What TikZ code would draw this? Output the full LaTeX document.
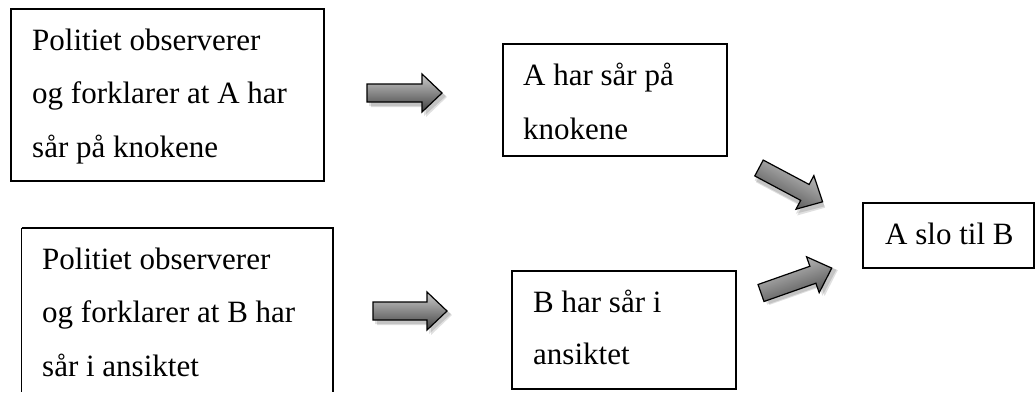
\documentclass[tikz,border=0pt]{standalone}
\usepackage{fontspec}
\setmainfont{Liberation Serif}
\tikzset{
  boxframe/.style={draw=black, line width=1.3pt},
  linetext/.style={anchor=base west, inner sep=0pt, font=\fontsize{31}{53}\selectfont},
  arrowbody/.style={draw=black, line width=1.2pt, line join=miter, top color=black!20},
  arrowshadow/.style={fill=black, opacity=0.12},
}
% #1 name, #2 tail centre, #3 angle, #4 length, #5 dark shade percentage (kept distinct)
\newcommand\blockarrow[5]{%
  \begin{scope}[shift={#2}, rotate=#3]
    \coordinate (#1) at (0,0);
    \fill[arrowshadow] (2,-6) -- (#4-18,-6) -- (#4-18,-16) -- (#4+4,3) -- (#4-18,23) -- (#4-18,13) -- (2,13) -- cycle;
    \fill[arrowshadow] (4,-4) -- (#4-16,-4) -- (#4-16,-14) -- (#4+5,4) -- (#4-16,24) -- (#4-16,14) -- (4,14) -- cycle;
    \shade[arrowbody, bottom color=black!#5, shading angle=#3] (0,-9) -- (#4-20,-9) -- (#4-20,-19) -- (#4,0) -- (#4-20,19) -- (#4-20,9) -- (0,9) -- cycle;
    \coordinate (#1tip) at (#4,0);
  \end{scope}}
\begin{document}
\begin{tikzpicture}[x=1pt, y=-1pt]
\useasboundingbox (0,0) rectangle (1036,392);
\fill[white] (0,0) rectangle (1036,392);

% boxes
\draw[boxframe] (11,9) rectangle (324,181);
\node[linetext] (l11) at (32,50) {Politiet observerer};
\node[linetext] (l12) at (32,103) {og forklarer at A har};
\node[linetext] (l13) at (32,157) {sår på knokene};

\draw[boxframe] (503,44) rectangle (727,156);
\node[linetext] (l21) at (523,85) {A har sår på};
\node[linetext] (l22) at (523,139) {knokene};

\draw[boxframe] (863,203) rectangle (1034,268);
\node[linetext] (l31) at (885,244) {A slo til B};

\draw[boxframe] (21.5,228) -- (21.5,392) (21.5,228) -- (333,228) -- (333,392);
\node[linetext] (l41) at (42,269) {Politiet observerer};
\node[linetext] (l42) at (42,322) {og forklarer at B har};
\node[linetext] (l43) at (42,376) {sår i ansiktet};

\draw[boxframe] (512,271) rectangle (736,389);
\node[linetext] (l51) at (533,312) {B har sår i};
\node[linetext] (l52) at (533,364) {ansiktet};

% block arrows
\blockarrow{a1}{(367,93)}{0}{75}{75}
\blockarrow{a2}{(373,311)}{0}{74}{74}
\blockarrow{a3}{(759,168)}{-28}{72}{73}
\blockarrow{a4}{(761,293)}{19.4}{75}{72}
\end{tikzpicture}
\end{document}
